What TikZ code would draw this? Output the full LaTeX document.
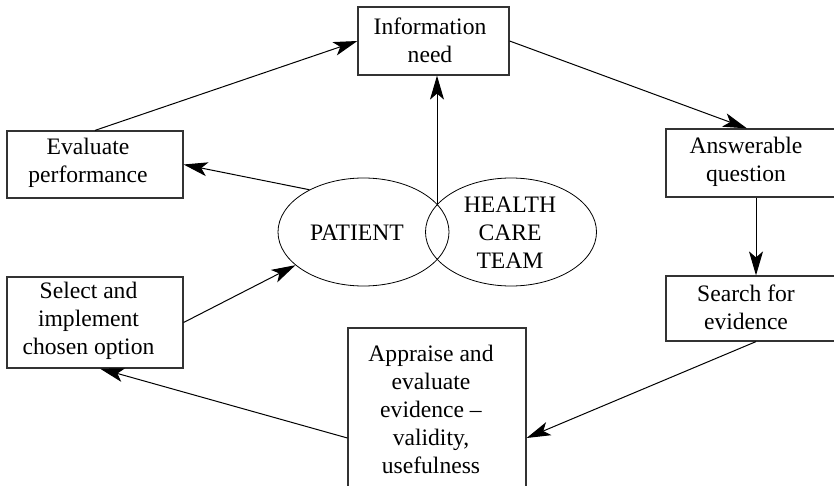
\documentclass[tikz,border=0pt]{standalone}
\usepackage{fontspec}
\setmainfont{Liberation Serif}
\usetikzlibrary{arrows.meta,shapes.geometric}
\begin{document}
\begin{tikzpicture}[x=0.5pt,y=-0.5pt,
  box/.style={draw=black!80,line width=0.6pt,rectangle,inner sep=0pt},
  txt/.style={align=center,inner sep=0pt,font=\fontsize{11.8}{14}\selectfont},
  oval/.style={draw,ellipse,line width=0.4pt,inner sep=0pt,minimum width=85.5pt,minimum height=54pt},
  conn/.style={line width=0.5pt,-{Stealth[length=12pt,width=7pt,inset=3pt]}},
  plain/.style={line width=0.5pt}]
\useasboundingbox (0,0) rectangle (834,486);
\clip (0,0) rectangle (834,486);
% boxes
\node[box,minimum width=75.5pt,minimum height=34pt] (info) at (433.5,41) {};
\node[txt] (infot) at (430,40) {Information\\need};
\node[box,minimum width=88pt,minimum height=33.5pt] (eval) at (95,164.5) {};
\node[txt] (evalt) at (88,163) {Evaluate\\performance};
\node[box,minimum width=88pt,minimum height=45.5pt] (select) at (95,322.5) {};
\node[txt] (selectt) at (88.5,321) {Select and\\implement\\chosen option};
\node[box,minimum width=90pt,minimum height=34pt] (ans) at (756,163) {};
\node[txt] (anst) at (746,162) {Answerable\\question};
\node[box,minimum width=90pt,minimum height=32.5pt] (search) at (756,308.5) {};
\node[txt] (searcht) at (746,307) {Search for\\evidence};
\node[box,minimum width=89pt,minimum height=110pt] (appr) at (437,438) {};
\node[txt] (apprt) at (431,409) {Appraise and\\evaluate\\evidence --\\validity,\\usefulness};
% ellipses
\node[oval] (patient) at (363.5,232) {};
\node[txt] (patientt) at (357,233) {PATIENT};
\node[oval] (team) at (511,232) {};
\node[txt] (teamt) at (510,233) {HEALTH\\CARE\\TEAM};
\coordinate (meet) at (437,204.5);
% connectors
\draw[conn] (eval.north) -- (info.west);
\draw[conn] (info.east) -- ([xshift=-4.5pt]ans.north);
\draw[conn] (ans.south) -- (search.north);
\draw[conn] (search.south) -- (appr.east);
\draw[conn] (appr.west) -- ([xshift=2.5pt]select.south);
\draw[conn] (select.east) -- (patient.206);
\draw[conn] (patient.142) -- (eval.east);
\draw[conn] (meet) -- (meet |- info.south);
\end{tikzpicture}
\end{document}
